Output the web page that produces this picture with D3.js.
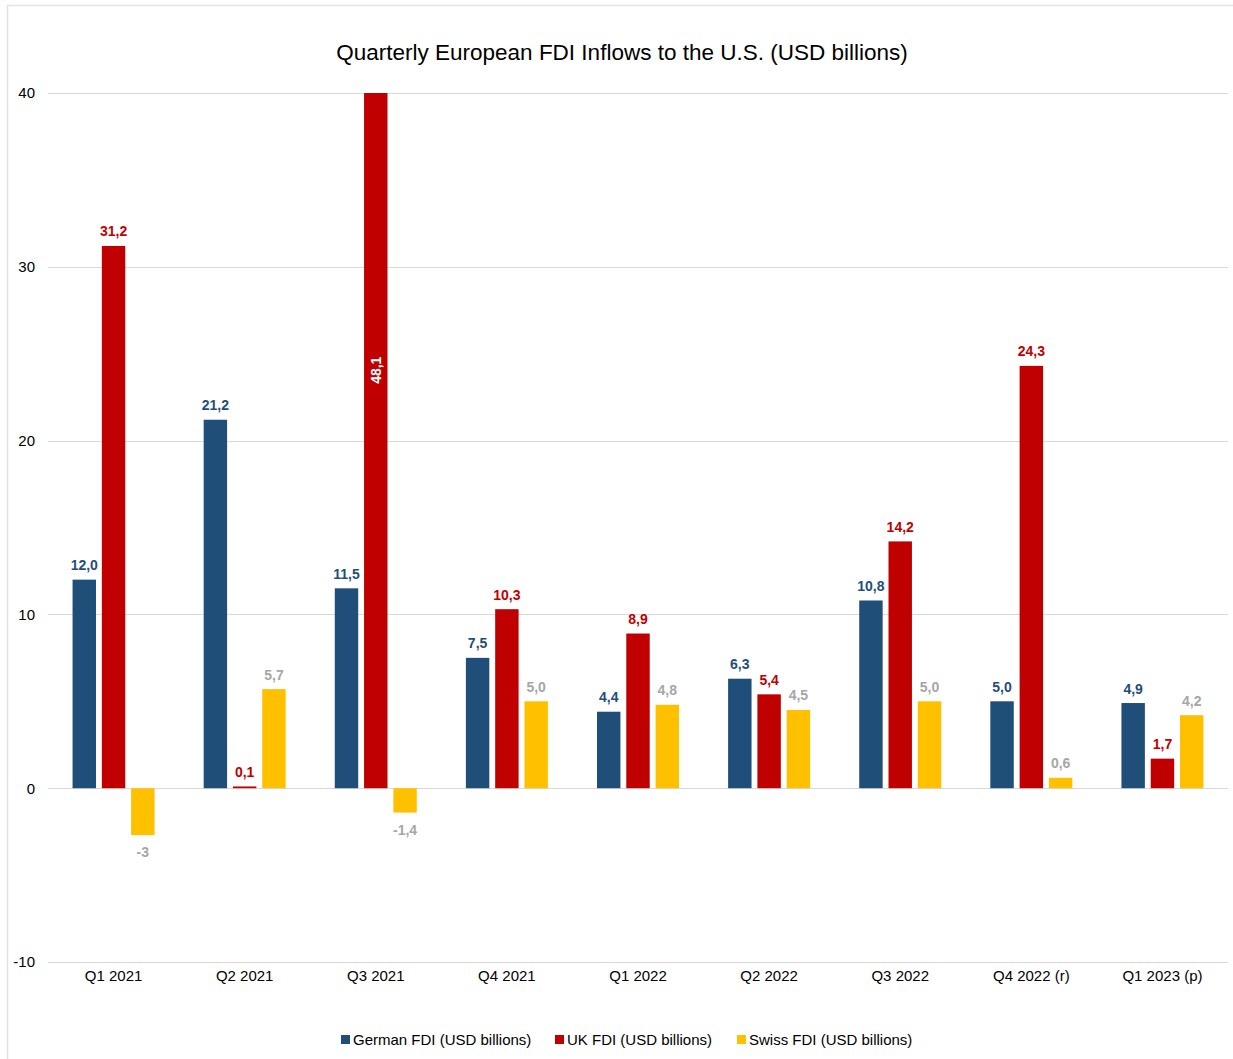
<!DOCTYPE html>
<html><head><meta charset="utf-8">
<script src="https://cdn.jsdelivr.net/npm/d3@7"></script>
<style>body{margin:0;background:#fff;font-family:"Liberation Sans",Arial,sans-serif;}</style>
</head><body>
<svg id="c" width="1233" height="1059"></svg>
<script>
const categories = ["Q1 2021","Q2 2021","Q3 2021","Q4 2021","Q1 2022","Q2 2022","Q3 2022","Q4 2022 (r)","Q1 2023 (p)"];
const german = [12.0, 21.2, 11.5, 7.5, 4.4, 6.3, 10.8, 5.0, 4.9];
const uk = [31.2, 0.1, 48.1, 10.3, 8.9, 5.4, 14.2, 24.3, 1.7];
const swiss = [-2.7, 5.7, -1.4, 5.0, 4.8, 4.5, 5.0, 0.6, 4.2];
const swissLabels = ["-3","5,7","-1,4","5,0","4,8","4,5","5,0","0,6","4,2"];
const seriesNames = ["German FDI (USD billions)","UK FDI (USD billions)","Swiss FDI (USD billions)"];
const yTicks = [-10, 0, 10, 20, 30, 40];

(function(){
const colors = ["#1f4e79","#c00000","#ffc000"];
const labelColors = ["#1f4e79","#c00000","#a6a6a6"];

const svg = d3.select("#c");
svg.append("rect").attr("x",7.5).attr("y",5.5).attr("width",1240).attr("height",1070)
  .attr("fill","#fff").attr("stroke","#e3e3e3").attr("stroke-width",1.5);

const pL = 48, pR = 1228, pT = 93, pB = 962;
const x = d3.scaleBand().domain(categories).range([pL,pR]).padding(0);
const y = d3.scaleLinear().domain([-10,40]).range([pB,pT]).clamp(true);

svg.append("text").attr("x",622).attr("y",60).attr("text-anchor","middle")
  .attr("font-size",22.5).attr("fill","#000").text("Quarterly European FDI Inflows to the U.S. (USD billions)");

svg.append("g").selectAll("line").data(yTicks).join("line")
  .attr("x1",pL).attr("x2",pR).attr("y1",d=>Math.round(y(d))+0.5).attr("y2",d=>Math.round(y(d))+0.5)
  .attr("stroke","#d9d9d9").attr("stroke-width",1);

const yAxis = svg.append("g").attr("transform",`translate(${pL},0)`)
  .call(d3.axisLeft(y).tickValues(yTicks).tickSize(0).tickPadding(13).tickFormat(d => String(d)));
yAxis.select(".domain").remove();
yAxis.selectAll("text").attr("font-size",15).attr("fill","#000").attr("font-family","Liberation Sans, Arial, sans-serif");

const xAxis = svg.append("g").attr("transform",`translate(0,${pB})`)
  .call(d3.axisBottom(x).tickSize(0).tickPadding(8));
xAxis.select(".domain").remove();
xAxis.selectAll("text").attr("font-size",15).attr("fill","#000").attr("font-family","Liberation Sans, Arial, sans-serif");

const inner = d3.scaleBand().domain([0,1,2]).range([-41,41]).paddingInner(0.2);
const bw = inner.bandwidth();
const all = [german, uk, swiss];
const fmt = v => d3.format(".1f")(v).replace(".",",");
const cx = (i,si) => x(categories[i])+x.bandwidth()/2+inner(si)+bw/2;

all.forEach((series, si) => {
  const g = svg.append("g");
  g.selectAll("rect").data(series).join("rect")
    .attr("x",(d,i)=>cx(i,si)-bw/2)
    .attr("width",bw)
    .attr("y",d=>y(Math.max(0,d)))
    .attr("height",d=>Math.abs(y(d)-y(0)))
    .attr("fill",colors[si]);
  g.selectAll("text").data(series).join("text")
    .attr("x",(d,i)=>cx(i,si))
    .attr("y",d=> d>40 ? y(d/2) : d>=0 ? y(d)-9.5 : y(d)+22)
    .attr("transform",(d,i)=> d>40 ? `rotate(-90,${cx(i,si)},${y(d/2)})` : null)
    .attr("dy", d=> d>40 ? "0.35em" : 0)
    .attr("text-anchor","middle").attr("font-size",14).attr("font-weight","bold")
    .attr("fill",d=> d>40 ? "#fff" : labelColors[si])
    .text((d,i)=> si===2 ? swissLabels[i] : fmt(d));
});

const legX = [341, 555, 737];
const leg = svg.append("g");
seriesNames.forEach((n,i)=>{
  leg.append("rect").attr("x",legX[i]).attr("y",1035).attr("width",9).attr("height",9).attr("fill",colors[i]);
  leg.append("text").attr("x",legX[i]+12).attr("y",1044.5).attr("font-size",15).attr("fill","#000").text(n);
});
})();
</script>
</body></html>
